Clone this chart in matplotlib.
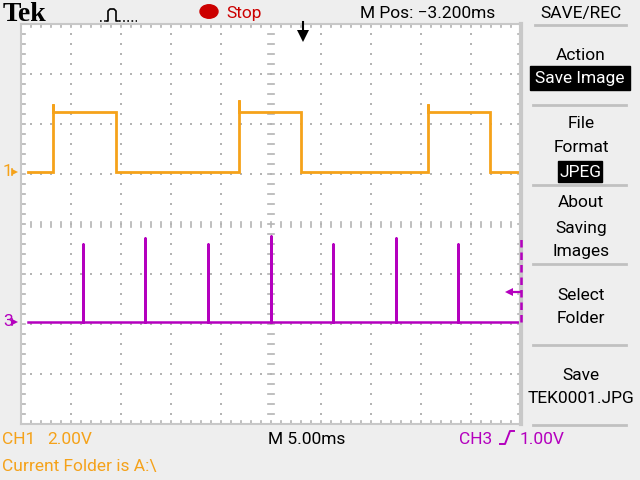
import numpy as np
import matplotlib.pyplot as plt
from matplotlib.lines import Line2D
from matplotlib.patches import Rectangle, Circle

# Tek scope screen: CH1 square wave (2 V/div), CH3 spikes (1 V/div), 5 ms/div
# times in ms from the left edge of the graticule
ch1_t = [0.7, 3.2, 3.2, 3.2, 9.5, 9.5, 21.8, 21.8, 21.8, 28.0, 28.0,
         40.7, 40.7, 40.7, 46.9, 46.9, 50.0]
ch1_v = [0.0, 0.0, 2.72, 2.4, 2.4, 0.0, 0.0, 2.88, 2.4, 2.4, 0.0,
         0.0, 2.70, 2.4, 2.4, 0.0, 0.0]
ch1_offset = 1.04   # divisions above center
ch1_scale = 2.0     # V/div

ch3_spike_t = [6.2, 12.4, 18.7, 25.0, 31.2, 37.5, 43.7]
ch3_spike_v = [1.56, 1.68, 1.56, 1.72, 1.56, 1.68, 1.56]
ch3_start, ch3_end = 0.7, 50.0
ch3_edge_v = 1.70    # dashed trace at the right edge
ch3_offset = -1.96
ch3_scale = 1.0
trig_level_v = 0.60
trig_pos = 28.2      # ms, trigger point marker at top

menu_items = [("Action", 60), ("File", 128), ("Format", 152), ("About", 207),
              ("Saving", 233), ("Images", 256), ("Select", 300),
              ("Folder", 323), ("Save", 380), ("TEK0001.JPG", 403)]
menu_boxes = [("Save Image", 83, 530, 630, 66, 90), ("JPEG", 177, 558, 602, 161, 182)]
menu_seps = [105, 185, 264, 345, 425]

ORANGE = "#f5a21a"
MAGENTA = "#b400be"
GRID = "#b4b4b4"
BG = "#eeeeee"
FONT = ["Roboto", "DejaVu Sans"]
FS = 12.5

W, H = 640, 480


def fx(px):
    return px / W


def fy(py):
    return 1 - py / H


fig = plt.figure(figsize=(6.4, 4.8), dpi=100, facecolor=BG)
ax = fig.add_axes([21 / W, 56 / H, 500 / W, 400 / H])
ax.set_xlim(0, 50)
ax.set_ylim(-4, 4)
ax.set_facecolor("white")
ax.set_xticks([])
ax.set_yticks([])
for side, sp in ax.spines.items():
    sp.set_color("#c8c8c8")
    sp.set_linewidth(1.5)
ax.spines["right"].set_linewidth(3)

# graticule
minor_x = np.arange(0, 50.01, 1.0)
minor_y = np.arange(-4, 4.01, 0.2)
for xm in [5, 10, 15, 20, 30, 35, 40, 45]:
    ax.plot(np.full_like(minor_y, xm), minor_y, ls="none", marker="s",
            ms=1.6, mew=0, color=GRID)
for ym in [-3, -2, -1, 1, 2, 3]:
    ax.plot(minor_x, np.full_like(minor_x, ym), ls="none", marker="s",
            ms=1.6, mew=0, color=GRID)
for yy in minor_y:
    ax.plot([24.7, 25.3], [yy, yy], color=GRID, lw=1.2)
    ax.plot([0, 0.35], [yy, yy], color=GRID, lw=1.2)
    ax.plot([49.65, 50], [yy, yy], color=GRID, lw=1.2)
for xx in minor_x:
    ax.plot([xx, xx], [-0.05, 0.05], color=GRID, lw=1.2)
    ax.plot([xx, xx], [4, 3.93], color=GRID, lw=1.2)
    ax.plot([xx, xx], [-4, -3.93], color=GRID, lw=1.2)

# CH1
ch1_y = [ch1_offset + v / ch1_scale for v in ch1_v]
ax.plot(ch1_t, ch1_y, color=ORANGE, lw=2, solid_joinstyle="miter")

# CH3
t3 = [ch3_start]
v3 = [0.0]
for t, v in zip(ch3_spike_t, ch3_spike_v):
    t3 += [t, t, t]
    v3 += [0.0, v, 0.0]
t3.append(ch3_end)
v3.append(0.0)
ax.plot(t3, [ch3_offset + v / ch3_scale for v in v3], color=MAGENTA, lw=1.8)
ax.plot([ch3_end, ch3_end], [ch3_offset, ch3_offset + ch3_edge_v / ch3_scale],
        color=MAGENTA, lw=1.8, ls=(0, (3, 2)), clip_on=False, zorder=4)

# trigger level marker (right edge)
ty = ch3_offset + trig_level_v / ch3_scale
ax.plot([48.8, 50], [ty, ty], color=MAGENTA, lw=1.6, clip_on=False, zorder=4)
ax.plot([48.8], [ty], marker="<", ms=6, mew=0, color=MAGENTA, clip_on=False,
        zorder=4)

# trigger position marker (top)
ax.plot([trig_pos, trig_pos], [4.04, 3.7], color="black", lw=1.5, clip_on=False,
        zorder=4)
ax.plot([trig_pos], [3.76], marker="v", ms=8, mew=0, color="black", clip_on=False,
        zorder=4)

# channel ground markers
for label, off, col in [("1", ch1_offset, ORANGE), ("3", ch3_offset, MAGENTA)]:
    ax.text(-1.8, off, label, color=col, fontsize=FS, family=FONT,
            ha="left", va="center", clip_on=False)
    ax.plot([-0.6], [off], marker=">", ms=5, mew=0, color=col, clip_on=False)
    ax.plot([-0.9, -0.9], [off - 0.06, off + 0.06], color=col, lw=1.2, clip_on=False)

# top status line
fig.text(fx(3), fy(21), "Tek", fontsize=20, family="Liberation Serif",
         weight="bold", ha="left", va="baseline")
pulse_x = [106, 108, 108, 110, 114, 116, 116, 118]
pulse_y = [21, 21, 11, 9, 9, 11, 21, 21]
fig.add_artist(Line2D([fx(p) for p in pulse_x], [fy(p) for p in pulse_y],
                      color="black", lw=1.2))
fig.add_artist(Line2D([fx(100), fx(105)], [fy(21), fy(21)], color="black",
                      lw=1.2, ls=(0, (1, 1.5))))
fig.add_artist(Line2D([fx(119), fx(137)], [fy(21), fy(21)], color="black",
                      lw=1.2, ls=(0, (1, 1.5))))
fig.add_artist(Circle((fx(209), fy(11.5)), 9 / W, transform=fig.transFigure,
                      color="#cc0000"))
fig.text(fx(226), fy(18), "Stop", color="#cc0000", fontsize=FS,
         family=FONT, ha="left", va="baseline")
fig.text(fx(360), fy(18), "M Pos: \u22123.200ms", fontsize=FS,
         family=FONT, ha="left", va="baseline")
fig.text(fx(581), fy(18), "SAVE/REC", fontsize=FS, family=FONT,
         ha="center", va="baseline")
fig.add_artist(Line2D([fx(535), fx(626)], [fy(25), fy(25)], color="#c0c0c0", lw=2))

# right menu
for txt, base in menu_items:
    fig.text(fx(581), fy(base), txt, fontsize=FS, family=FONT,
             ha="center", va="baseline")
for txt, base, x0, x1, y0, y1 in menu_boxes:
    fig.add_artist(Rectangle((fx(x0), fy(y1)), fx(x1) - fx(x0), fy(y0) - fy(y1),
                             transform=fig.transFigure, color="black"))
    fig.text(fx((x0 + x1) / 2), fy(base), txt, color="white", fontsize=FS,
             family=FONT, ha="center", va="baseline")
for sy in menu_seps:
    fig.add_artist(Line2D([fx(533), fx(626)], [fy(sy), fy(sy)],
                          color="#c0c0c0", lw=2))

# bottom status line
fig.text(fx(2), fy(444), "CH1", color=ORANGE, fontsize=FS, family=FONT,
         ha="left", va="baseline")
fig.text(fx(47), fy(444), "2.00V", color=ORANGE, fontsize=FS, family=FONT,
         ha="left", va="baseline")
fig.text(fx(268), fy(444), "M 5.00ms", fontsize=FS, family=FONT,
         ha="left", va="baseline")
fig.text(fx(459), fy(444), "CH3", color=MAGENTA, fontsize=FS, family=FONT,
         ha="left", va="baseline")
slope_x = [500, 505, 510, 514]
slope_y = [444, 444, 431, 431]
fig.add_artist(Line2D([fx(p) for p in slope_x], [fy(p) for p in slope_y],
                      color=MAGENTA, lw=1.4))
fig.text(fx(520), fy(444), "1.00V", color=MAGENTA, fontsize=FS, family=FONT,
         ha="left", va="baseline")
fig.text(fx(2), fy(471), "Current Folder is A:\\", color=ORANGE, fontsize=FS,
         family=FONT, ha="left", va="baseline")

fig.savefig("out.png", dpi=100, facecolor=BG)
